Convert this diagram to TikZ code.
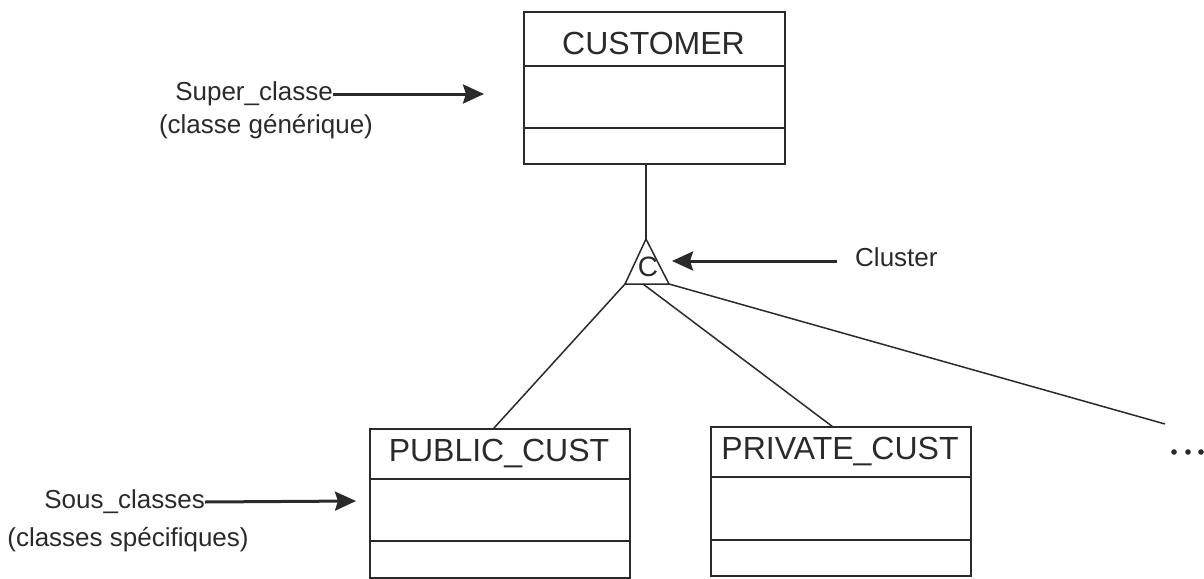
\documentclass[tikz,border=0pt]{standalone}
\usepackage{fontspec}
\setmainfont{Liberation Sans}
\usetikzlibrary{arrows.meta}
\definecolor{ink}{HTML}{2A2A2A}
\tikzset{
  classbox/.style={draw=ink, line width=1.6pt, inner sep=0pt, anchor=north west},
  classname/.style={text=ink, inner sep=0pt, font=\fontsize{32}{38}\selectfont},
  divider/.style={draw=ink, line width=1.2pt},
  link/.style={draw=ink, line width=1.5pt},
  note/.style={text=ink, inner sep=0pt, font=\fontsize{26}{31}\selectfont},
  pointer/.style={draw=ink, line width=3pt, -{Stealth[length=21pt,width=19pt,inset=3pt]}},
}
\begin{document}
\begin{tikzpicture}[x=1pt,y=-1pt]
\useasboundingbox (0,0) rectangle (1204,578);

% super class
\node[classbox, minimum width=261pt, minimum height=152pt] (cust) at (523,11) {};
\node[classname] (custname) at (653.5,43) {CUSTOMER};
\draw[divider] (523,66) -- (784,66);
\draw[divider] (523,128) -- (784,128);

% sub classes
\node[classbox, minimum width=260pt, minimum height=149pt] (pub) at (369,428) {};
\node[classname] (pubname) at (499,454) {PUBLIC\_CUST};
\draw[divider] (369,479) -- (629,479);
\draw[divider] (369,541) -- (629,541);

\node[classbox, minimum width=260pt, minimum height=149pt] (priv) at (710,426) {};
\node[classname] (privname) at (840,452) {PRIVATE\_CUST};
\draw[divider] (710,477) -- (970,477);
\draw[divider] (710,540) -- (970,540);

% cluster triangle
\coordinate (tritop) at (646,239);
\coordinate (trileft) at (625,284);
\coordinate (triright) at (669,284);
\coordinate (trimid) at (643,284);
\draw[link, line join=miter] (tritop) -- (trileft) -- (triright) -- cycle;
\node[text=ink, inner sep=0pt, font=\fontsize{28}{32}\selectfont] (cl) at (648,267) {C};

% inheritance links
\coordinate (pubhook) at (494,428);
\coordinate (privhook) at (833,427);
\coordinate (openend) at (1165,424);
\draw[link] (cust.south -| tritop) -- (tritop);
\draw[link] (trileft) -- (pubhook);
\draw[link] (trimid) -- (privhook);
\draw[link] (triright) -- (openend);

% further sub classes
\foreach \dx in {1174,1188,1201}
  \fill[ink] (\dx,452) circle (2.8pt);

% annotations
\node[note, anchor=east] (sup) at (333,94) {Super\_classe};
\node[note] (supdesc) at (266,127) {(classe générique)};
\coordinate (suptip) at (484,94);
\draw[pointer] (sup.east) -- (suptip);

\node[note, anchor=east] (sous) at (205,502) {Sous\_classes};
\node[note] (sousdesc) at (128,540) {(classes spécifiques)};
\coordinate (soustip) at (356,501);
\draw[pointer] (sous.east) -- (soustip);

\node[note, anchor=west] (clus) at (855,257) {Cluster};
\coordinate (clustail) at (837,261);
\coordinate (clustip) at (672,261);
\draw[pointer] (clustail) -- (clustip);
\end{tikzpicture}
\end{document}
